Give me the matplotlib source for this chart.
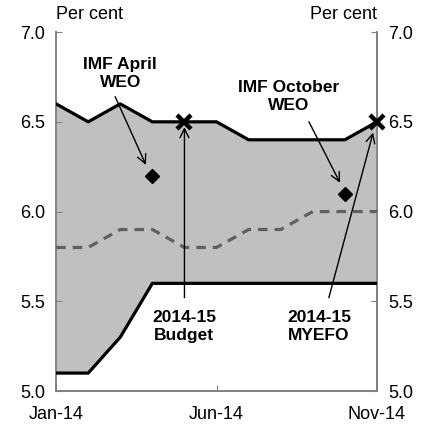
import matplotlib.pyplot as plt
import numpy as np

plt.rcParams['font.family'] = ['Liberation Sans', 'DejaVu Sans']

# Monthly data, Jan-14 to Nov-14
months = ['Jan-14', 'Feb-14', 'Mar-14', 'Apr-14', 'May-14', 'Jun-14',
          'Jul-14', 'Aug-14', 'Sep-14', 'Oct-14', 'Nov-14']
upper = [6.6, 6.5, 6.6, 6.5, 6.5, 6.5, 6.4, 6.4, 6.4, 6.4, 6.5]
lower = [5.1, 5.1, 5.3, 5.6, 5.6, 5.6, 5.6, 5.6, 5.6, 5.6, 5.6]
median = [5.8, 5.8, 5.9, 5.9, 5.8, 5.8, 5.9, 5.9, 6.0, 6.0, 6.0]

# Point forecasts (month index, value)
imf_idx = [3, 9]
imf_val = [6.2, 6.1]
budget_idx = [4, 10]
budget_val = [6.5, 6.5]

x = np.arange(len(months))
grey = '#808080'

fig = plt.figure(figsize=(4.25, 4.28), dpi=100)
ax = fig.add_axes([0.132, 0.0864, 0.755, 0.8386])

ax2 = ax.twinx()
ax2.set_ylim(5.0, 7.0)
ax2.set_yticks([5.0, 5.5, 6.0, 6.5, 7.0])
ax2.set_yticklabels(['5.0', '5.5', '6.0', '6.5', '7.0'])
# draw the main axes on top of the twin so markers sit over the right spine
ax.set_zorder(ax2.get_zorder() + 1)
ax.patch.set_visible(False)

ax.fill_between(x, lower, upper, color='#c0c0c0', lw=0, zorder=1)
ax.plot(x, upper, color='black', lw=2.3, zorder=3)
ax.plot(x, lower, color='black', lw=2.3, zorder=3)
ax.plot(x, median, color='#606060', lw=2.3, ls=(0, (3, 2.2)), zorder=3)

ax.plot(imf_idx, imf_val, 'D', color='black', ms=7, zorder=5, clip_on=False)
ax.plot(budget_idx, budget_val, 'x', color='black', ms=10, mew=3.2, zorder=5, clip_on=False)

ax.set_xlim(0, 10)
ax.set_ylim(5.0, 7.0)
ax.set_yticks([5.0, 5.5, 6.0, 6.5, 7.0])
ax.set_yticklabels(['5.0', '5.5', '6.0', '6.5', '7.0'])
ax.set_xticks([0, 5, 10])
ax.set_xticklabels([months[0], months[5], months[10]])

for a in (ax, ax2):
    a.spines['top'].set_visible(False)
    for s in ('left', 'right', 'bottom'):
        a.spines[s].set_color(grey)
        a.spines[s].set_linewidth(1.2)
    a.tick_params(direction='in', length=4, color=grey, labelsize=13, pad=8)
ax.tick_params(axis='x', pad=11)

ax.text(0, 1.025, 'Per cent', transform=ax.transAxes, ha='left', va='bottom', fontsize=13)
ax.text(1, 1.025, 'Per cent', transform=ax.transAxes, ha='right', va='bottom', fontsize=13)

arrow = dict(arrowstyle='->', color='black', lw=1.0, mutation_scale=16, shrinkA=0, shrinkB=0)
bold = dict(fontsize=12.5, fontweight='bold', ha='center', va='center', linespacing=1.25)

ax.text(2.0, 6.77, 'IMF April\nWEO', **bold)
ax.annotate('', xy=(2.8, 6.26), xytext=(1.84, 6.64), arrowprops=arrow)
ax.text(7.26, 6.64, 'IMF October\nWEO', **bold)
ax.annotate('', xy=(8.85, 6.16), xytext=(7.88, 6.50), arrowprops=arrow)

ax.text(3.99, 5.36, '2014-15\nBudget', **bold)
ax.annotate('', xy=(4, 6.47), xytext=(4, 5.52), arrowprops=arrow)
ax.text(8.19, 5.36, '2014-15\nMYEFO', **bold)
ax.annotate('', xy=(9.88, 6.44), xytext=(8.5, 5.52), arrowprops=arrow)

fig.savefig('out.png', dpi=100)
